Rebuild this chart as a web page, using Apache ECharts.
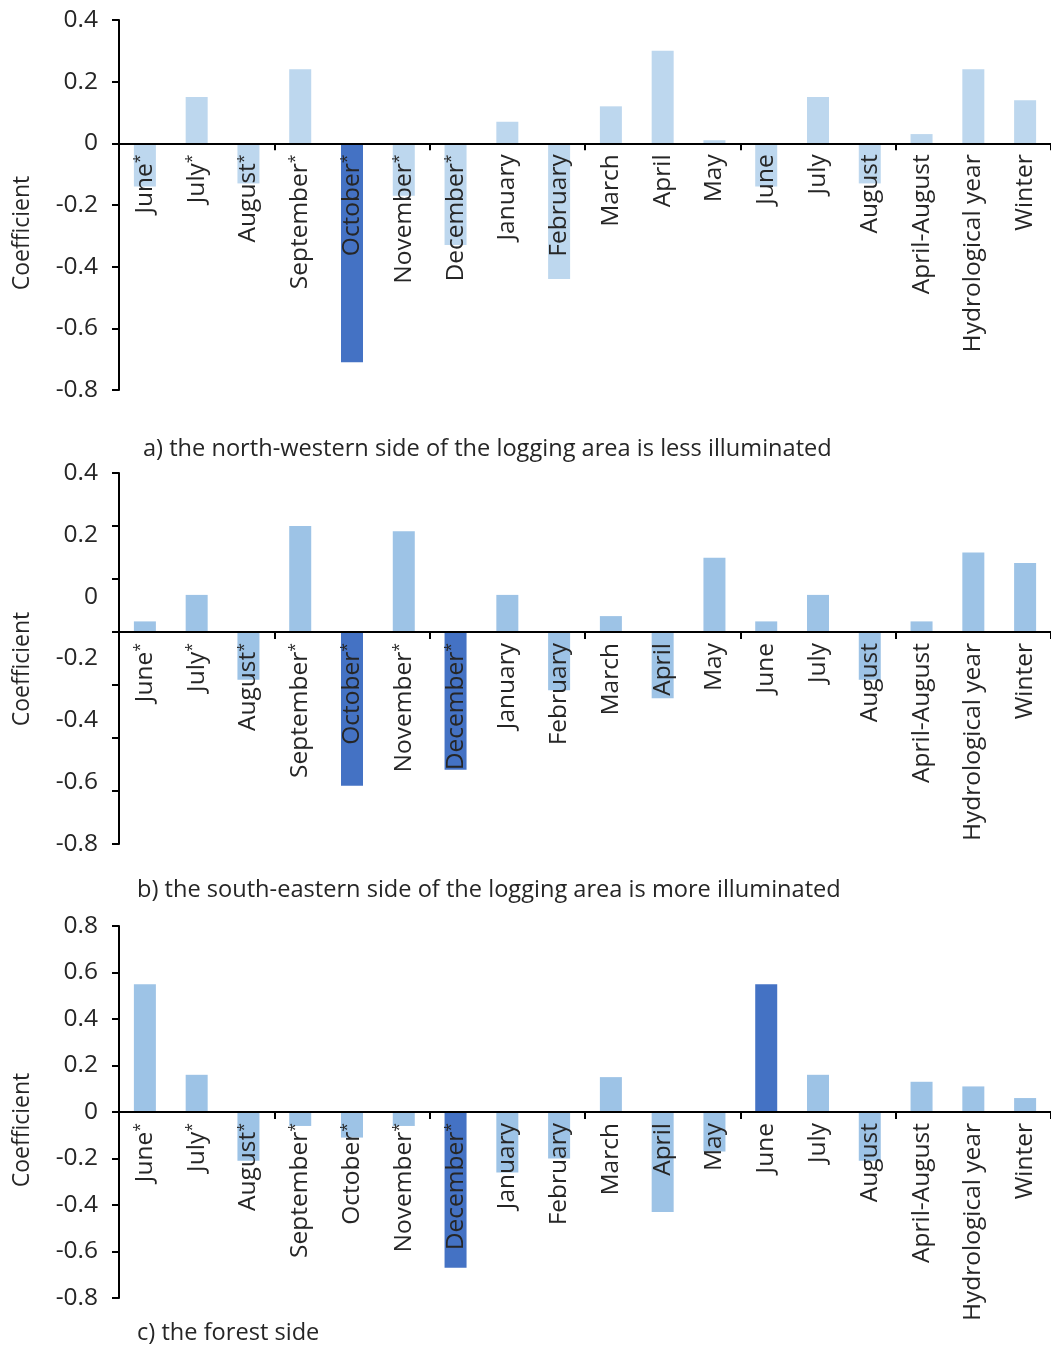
<!DOCTYPE html>
<html>
<head>
<meta charset="utf-8">
<script src="https://cdn.jsdelivr.net/npm/echarts@6/dist/echarts.min.js"></script>
<style>
  html, body { margin: 0; padding: 0; background: #ffffff; }
  #chart { width: 1051px; height: 1346px; }
</style>
</head>
<body>
<div id="chart"></div>
<script>
// Periods along the horizontal axis (asterisk = previous year)
const categories = ['June*', 'July*', 'August*', 'September*', 'October*', 'November*', 'December*',
  'January', 'February', 'March', 'April', 'May', 'June', 'July', 'August',
  'April-August', 'Hydrological year', 'Winter'];

// a) north-western side, less illuminated
const valuesA = [-0.14, 0.15, -0.13, 0.24, -0.71, -0.17, -0.33, 0.07, -0.44, 0.12,
  0.30, 0.01, -0.14, 0.15, -0.13, 0.03, 0.24, 0.14];
const strongA = [4];

// b) south-eastern side, more illuminated
const valuesB = [0.02, 0.07, -0.09, 0.20, -0.29, 0.19, -0.26, 0.07, -0.11, 0.03,
  -0.125, 0.14, 0.02, 0.07, -0.09, 0.02, 0.15, 0.13];
const strongB = [4, 6];

// c) forest side
const valuesC = [0.55, 0.16, -0.21, -0.06, -0.11, -0.06, -0.67, -0.26, -0.20, 0.15,
  -0.43, -0.17, 0.55, 0.16, -0.21, 0.13, 0.11, 0.06];
const strongC = [6, 12];

const captions = [
  'a) the north-western side of the logging area is less illuminated',
  'b) the south-eastern side of the logging area is more illuminated',
  'c) the forest side'
];
const yName = 'Coefficient';

const FONT = '"Open Sans", "Noto Sans", sans-serif';
const TEXT = '#262626';
const DARK = '#4472C4';

const chart = echarts.init(document.getElementById('chart'), null, { renderer: 'canvas' });

const grids = [
  { left: 119, top: 20, width: 932, height: 370 },
  { left: 119, top: 473, width: 932, height: 371 },
  { left: 119, top: 926, width: 932, height: 372 }
].map(function (g) {
  return Object.assign({ containLabel: false, outerBoundsMode: 'none' }, g);
});

// value axis (component index) that carries each panel's zero line
const zeroAxisOf = [0, 1, 3];

// axis line + ticks sitting on the zero line
function xLineAxis(gridIndex) {
  return {
    type: 'category',
    gridIndex: gridIndex,
    data: categories,
    z: 10,
    axisLine: { onZero: true, onZeroAxisIndex: zeroAxisOf[gridIndex], lineStyle: { color: '#000', width: 2 } },
    axisTick: { show: true, length: 7, inside: false, alignWithLabel: false, lineStyle: { color: '#000', width: 2 } },
    axisLabel: { show: false },
    splitLine: { show: false }
  };
}

// category names, hung just under the zero line
function xLabelAxis(gridIndex) {
  return {
    type: 'category',
    gridIndex: gridIndex,
    data: categories,
    position: 'bottom',
    offset: 0,
    z: 11,
    axisLine: { show: false, onZero: false },
    axisTick: { show: false },
    axisLabel: {
      interval: 0,
      rotate: 90,
      margin: 11,
      fontSize: 24.5,
      fontFamily: FONT,
      color: TEXT,
      formatter: function (v) { return v.replace('*', '{s|*}'); },
      rich: { s: { fontSize: 16, fontFamily: FONT, color: TEXT, verticalAlign: 'top', padding: [0, 0, 7, 0] } }
    },
    splitLine: { show: false }
  };
}

function yAxisFor(gridIndex, min, max, interval, opts) {
  opts = opts || {};
  return {
    type: 'value',
    gridIndex: gridIndex,
    min: min,
    max: max,
    interval: interval,
    position: 'left',
    axisLine: { show: opts.line !== false, onZero: false, lineStyle: { color: '#000', width: 2 } },
    axisTick: { show: opts.line !== false, length: 7, inside: false, lineStyle: { color: '#000', width: 2 } },
    axisLabel: {
      show: opts.labels !== false,
      margin: 21,
      fontSize: 24.5,
      fontFamily: FONT,
      color: TEXT
    },
    splitLine: { show: false }
  };
}

function barSeries(values, strong, light, xi, yi) {
  return {
    type: 'bar',
    xAxisIndex: xi,
    yAxisIndex: yi,
    barWidth: 22,
    data: values.map(function (v, i) {
      return { value: v, itemStyle: { color: strong.indexOf(i) >= 0 ? DARK : light } };
    })
  };
}

const graphics = [];
const capPos = [[143, 449], [137, 890], [137, 1333]];
captions.forEach(function (c, i) {
  graphics.push({
    type: 'text', x: capPos[i][0], y: capPos[i][1],
    style: { text: c, fontSize: 23.6, fontFamily: FONT, fill: TEXT, textAlign: 'left', textVerticalAlign: 'middle' }
  });
});
[233, 669, 1130].forEach(function (cy) {
  graphics.push({
    type: 'text', x: 22, y: cy, rotation: Math.PI / 2,
    style: { text: yName, fontSize: 23, fontFamily: FONT, fill: TEXT, textAlign: 'center', textVerticalAlign: 'middle' }
  });
});

chart.setOption({
  animation: false,
  backgroundColor: '#ffffff',
  grid: grids,
  xAxis: [xLineAxis(0), xLineAxis(1), xLineAxis(2), xLabelAxis(0), xLabelAxis(1), xLabelAxis(2)],
  yAxis: [
    yAxisFor(0, -0.8, 0.4, 0.2),
    // panel b: scale of the bars, with ticks
    yAxisFor(1, -0.4, 0.3, 0.1, { labels: false }),
    // panel b: printed scale labels
    yAxisFor(1, -0.8, 0.4, 0.2, { line: false }),
    yAxisFor(2, -0.8, 0.8, 0.2)
  ],
  series: [
    barSeries(valuesA, strongA, '#BDD7EE', 0, 0),
    barSeries(valuesB, strongB, '#9DC3E6', 1, 1),
    barSeries(valuesC, strongC, '#9DC3E6', 2, 3)
  ],
  graphic: graphics
});

// lift each label axis from the grid bottom up to that panel's zero line
const labelOffsets = [0, 1, 2].map(function (gi) {
  const zeroY = chart.convertToPixel({ yAxisIndex: zeroAxisOf[gi] }, 0);
  const bottomY = grids[gi].top + grids[gi].height;
  return zeroY - bottomY;
});
chart.setOption({
  xAxis: [{}, {}, {}].concat(labelOffsets.map(function (o) { return { offset: o }; }))
});
</script>
</body>
</html>
